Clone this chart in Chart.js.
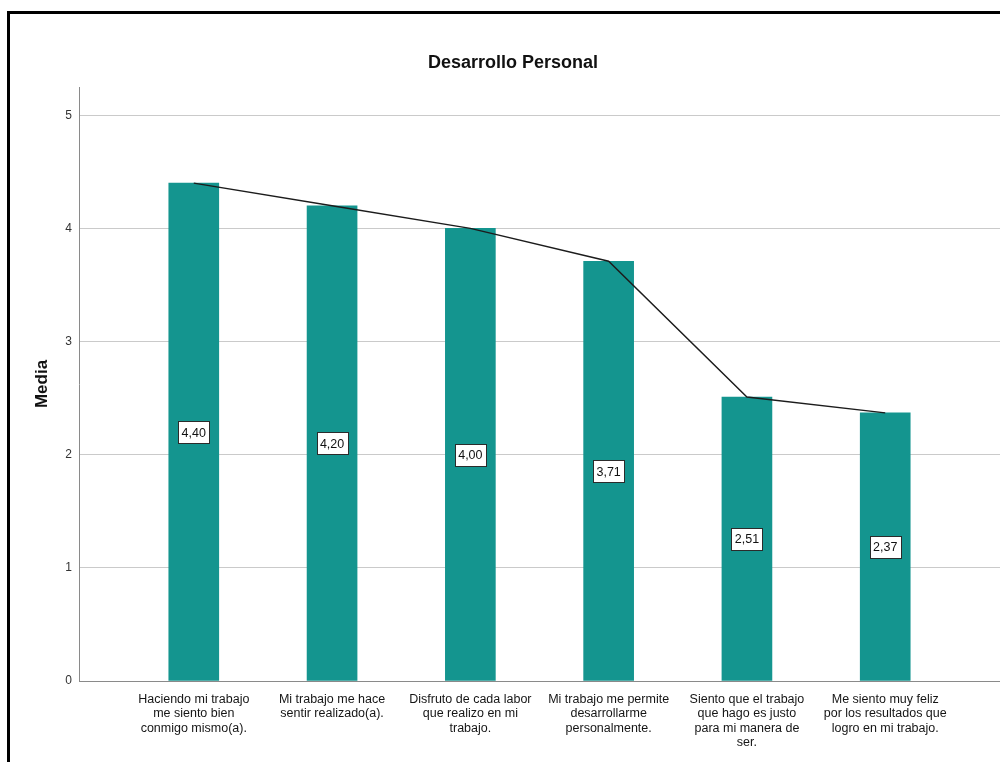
<!DOCTYPE html>
<html>
<head>
<meta charset="utf-8">
<title>Desarrollo Personal</title>
<script src="https://cdn.jsdelivr.net/npm/chart.js@4.4.1/dist/chart.umd.min.js"></script>
<style>
  html, body { margin: 0; padding: 0; background: #fff; overflow: hidden; }
  canvas { position: absolute; left: 0; top: 0; }
  #titulo { position: absolute; top: 52px; left: 0; width: 1026px; line-height: 22px; text-align: center;
            font: bold 18px 'Liberation Sans', Arial, sans-serif; color: #111; }
  #marco { position: absolute; left: 7px; top: 11px; width: 1000px; height: 800px;
           border-left: 3px solid #000; border-top: 3px solid #000; pointer-events: none; }
</style>
</head>
<body>
<canvas id="grafico" width="1000" height="762"></canvas>
<div id="titulo">Desarrollo Personal</div>
<div id="marco"></div>
<script>
// Preguntas del bloque (cada una en líneas, como se ven bajo el eje)
const categorias = [
  ['Haciendo mi trabajo', 'me siento bien', 'conmigo mismo(a).'],
  ['Mi trabajo me hace', 'sentir realizado(a).'],
  ['Disfruto de cada labor', 'que realizo en mi', 'trabajo.'],
  ['Mi trabajo me permite', 'desarrollarme', 'personalmente.'],
  ['Siento que el trabajo', 'que hago es justo', 'para mi manera de', 'ser.'],
  ['Me siento muy feliz', 'por los resultados que', 'logro en mi trabajo.']
];
const medias = [4.40, 4.20, 4.00, 3.71, 2.51, 2.37];
const ticksY = [0, 1, 2, 3, 4, 5];

Chart.defaults.font.family = "'Liberation Sans', Arial, sans-serif";

const posiciones = categorias.map((_, i) => i);
const puntos = medias.map((v, i) => ({ x: i, y: v }));

// Cajitas con el valor de la media a media altura de cada barra
const etiquetasValor = {
  id: 'etiquetasValor',
  afterDatasetsDraw(chart) {
    const { ctx, scales: { x, y } } = chart;
    ctx.save();
    ctx.font = "12.5px 'Liberation Sans', Arial, sans-serif";
    ctx.textAlign = 'center';
    ctx.textBaseline = 'middle';
    medias.forEach((v, i) => {
      const texto = v.toFixed(2).replace('.', ',');
      const px = x.getPixelForValue(i);
      const py = y.getPixelForValue(v / 2);
      const w = Math.round(ctx.measureText(texto).width + 7);
      const h = 22;
      const bx = Math.round(px - w / 2) + 0.5;
      const by = Math.round(py - h / 2) + 0.5;
      ctx.fillStyle = '#fff';
      ctx.fillRect(bx, by, w, h);
      ctx.strokeStyle = '#2b2b2b';
      ctx.lineWidth = 1;
      ctx.strokeRect(bx, by, w, h);
      ctx.fillStyle = '#111';
      ctx.fillText(texto, px, py + 1);
    });
    ctx.restore();
  }
};

new Chart(document.getElementById('grafico'), {
  type: 'bar',
  data: {
    datasets: [
      {
        type: 'line',
        data: puntos,
        borderColor: '#1c1c1c',
        borderWidth: 1.4,
        pointRadius: 0,
        tension: 0,
        order: 0
      },
      {
        type: 'bar',
        data: puntos,
        backgroundColor: '#14958f',
        barThickness: 50,
        order: 1
      }
    ]
  },
  options: {
    responsive: false,
    animation: false,
    layout: { padding: { top: 87, left: 0, right: 0, bottom: 0 } },
    plugins: {
      legend: { display: false },
      tooltip: { enabled: false },
      title: { display: false }
    },
    scales: {
      x: {
        type: 'linear',
        offset: false,
        bounds: 'data',
        min: -0.83,
        max: 5.83,
        afterBuildTicks: s => { s.ticks = posiciones.map(v => ({ value: v })); },
        afterFit: s => { s.height = 81; },
        grid: { display: false },
        border: { display: true, color: '#8a8a8a', width: 1 },
        ticks: {
          autoSkip: false,
          maxRotation: 0,
          minRotation: 0,
          padding: 3,
          color: '#151515',
          font: { size: 12.5, lineHeight: 1.16 },
          callback: v => categorias[v]
        }
      },
      y: {
        min: 0,
        max: 5.25,
        afterBuildTicks: s => { s.ticks = ticksY.map(v => ({ value: v })); },
        afterFit: s => { s.width = 79; },
        grid: { color: '#cacaca', drawTicks: false },
        border: { display: true, color: '#8a8a8a', width: 1 },
        ticks: { padding: 7, color: '#333', font: { size: 12 } },
        title: {
          display: true,
          text: 'Media',
          color: '#111',
          font: { size: 17, weight: 'bold' },
          padding: { top: 32, bottom: 0 }
        }
      }
    }
  },
  plugins: [etiquetasValor]
});
</script>
</body>
</html>
